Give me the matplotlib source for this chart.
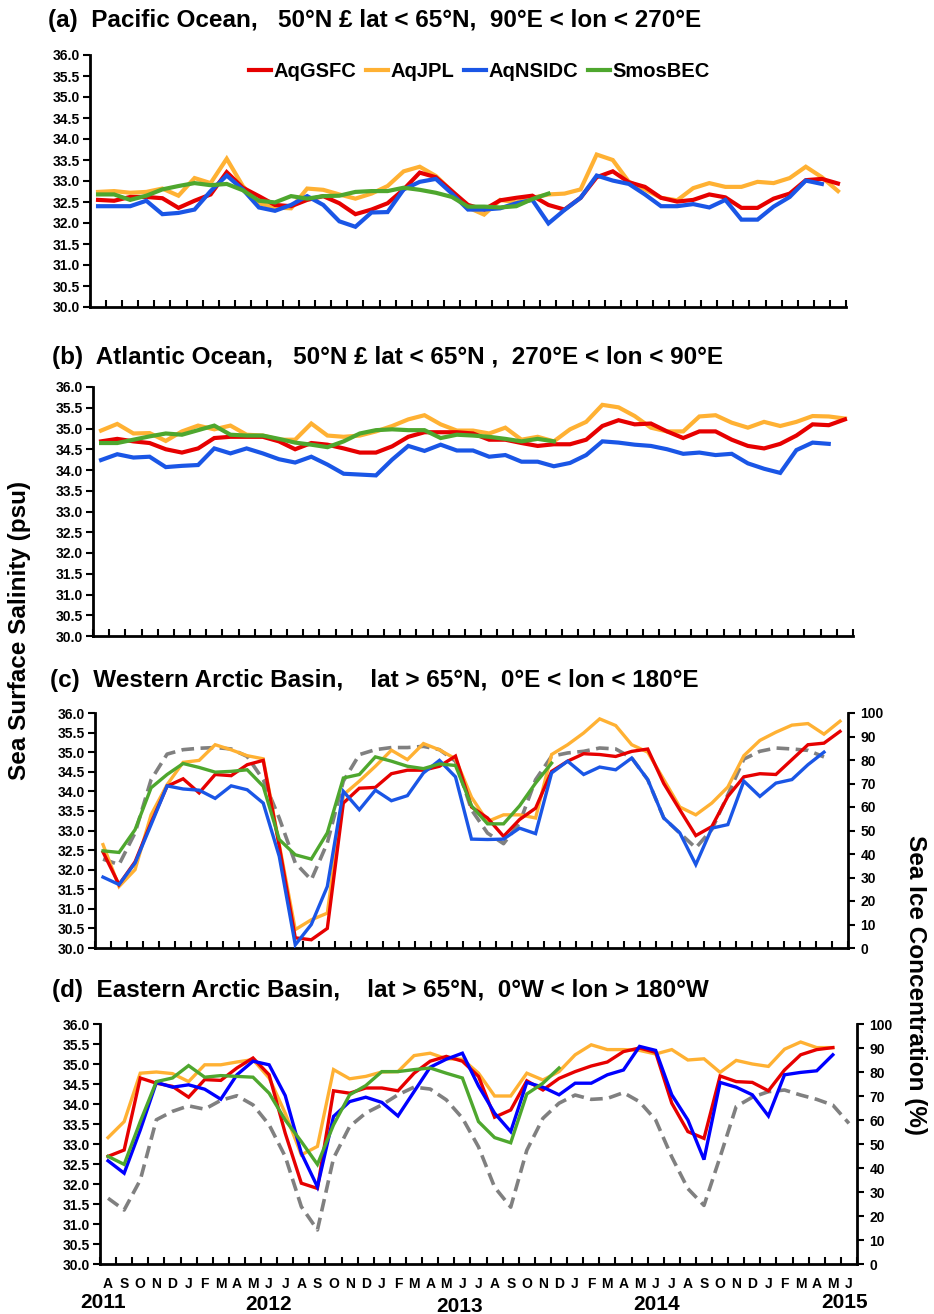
import numpy as np
import matplotlib
matplotlib.use("Agg")
import matplotlib.pyplot as plt
from matplotlib.ticker import MultipleLocator, FixedLocator, FormatStrFormatter

plt.rcParams['font.family'] = ['Liberation Sans', 'DejaVu Sans']
plt.rcParams['font.weight'] = 'bold'

nan = np.nan
months = list("ASOND" + "JFMAMJJASOND" * 3 + "JFMAMJ")
years = ['2011', '2012', '2013', '2014', '2015']
series_names = ['AqGSFC', 'AqJPL', 'AqNSIDC', 'SmosBEC']

# ---------------- (a) Pacific ----------------
a_gsfc = [32.55, 32.53, 32.62, 32.62, 32.59, 32.36, 32.53, 32.68, 33.21, 32.84,
          32.64, 32.43, 32.40, 32.55, 32.64, 32.47, 32.21, 32.32, 32.47, 32.80,
          33.20, 33.09, 32.76, 32.43, 32.32, 32.54, 32.60, 32.65, 32.43, 32.32,
          32.60, 33.09, 33.23, 32.97, 32.86, 32.60, 32.51, 32.55, 32.68, 32.61,
          32.36, 32.36, 32.58, 32.70, 33.02, 33.05, 32.94]
a_jpl = [32.74, 32.76, 32.72, 32.74, 32.82, 32.65, 33.07, 32.95, 33.53, 32.88,
         32.47, 32.37, 32.35, 32.82, 32.79, 32.68, 32.58, 32.70, 32.88, 33.23,
         33.34, 33.12, 32.76, 32.37, 32.20, 32.55, 32.49, 32.60, 32.68, 32.70,
         32.80, 33.63, 33.50, 32.98, 32.80, 32.60, 32.54, 32.83, 32.95, 32.86,
         32.86, 32.98, 32.95, 33.07, 33.34, 33.09, 32.76]
a_nsidc = [32.40, 32.40, 32.40, 32.53, 32.21, 32.24, 32.32, 32.76, 33.13, 32.80,
           32.37, 32.29, 32.43, 32.64, 32.43, 32.04, 31.91, 32.25, 32.26, 32.80,
           32.98, 33.05, 32.70, 32.32, 32.32, 32.35, 32.47, 32.55, 31.99, 32.31,
           32.60, 33.13, 33.01, 32.93, 32.68, 32.40, 32.40, 32.45, 32.37, 32.55,
           32.08, 32.08, 32.39, 32.62, 33.01, 32.93, nan]
a_smos = [32.68, 32.68, 32.55, 32.65, 32.80, 32.88, 32.95, 32.90, 32.93, 32.78,
          32.53, 32.49, 32.64, 32.58, 32.64, 32.65, 32.74, 32.76, 32.76, 32.84,
          32.79, 32.72, 32.62, 32.39, 32.39, 32.37, 32.40, 32.57, 32.70]

# ---------------- (b) Atlantic ----------------
b_gsfc = [34.69, 34.75, 34.69, 34.65, 34.50, 34.42, 34.52, 34.77, 34.80, 34.80,
          34.80, 34.69, 34.50, 34.65, 34.61, 34.52, 34.42, 34.42, 34.57, 34.80,
          34.91, 34.91, 34.91, 34.88, 34.73, 34.73, 34.65, 34.58, 34.62, 34.62,
          34.73, 35.06, 35.20, 35.10, 35.12, 34.93, 34.77, 34.93, 34.93, 34.73,
          34.58, 34.52, 34.63, 34.83, 35.10, 35.08, 35.22]
b_jpl = [34.95, 35.11, 34.88, 34.89, 34.70, 34.93, 35.07, 34.98, 35.07, 34.85,
         34.83, 34.73, 34.73, 35.12, 34.83, 34.80, 34.83, 34.93, 35.06, 35.22,
         35.32, 35.10, 34.95, 34.95, 34.88, 35.02, 34.73, 34.80, 34.69, 34.98,
         35.16, 35.57, 35.51, 35.30, 35.02, 34.93, 34.93, 35.29, 35.32, 35.14,
         35.02, 35.16, 35.06, 35.16, 35.30, 35.29, 35.24]
b_nsidc = [34.24, 34.38, 34.30, 34.32, 34.07, 34.10, 34.12, 34.52, 34.40, 34.52,
           34.40, 34.26, 34.18, 34.32, 34.13, 33.91, 33.89, 33.87, 34.25, 34.58,
           34.46, 34.61, 34.47, 34.47, 34.32, 34.36, 34.20, 34.20, 34.09, 34.17,
           34.36, 34.69, 34.66, 34.61, 34.58, 34.50, 34.39, 34.42, 34.36, 34.39,
           34.16, 34.03, 33.93, 34.48, 34.66, 34.63, nan]
b_smos = [34.65, 34.65, 34.73, 34.81, 34.88, 34.85, 34.96, 35.07, 34.85, 34.83,
          34.83, 34.75, 34.66, 34.61, 34.55, 34.69, 34.88, 34.96, 34.98, 34.96,
          34.96, 34.77, 34.85, 34.83, 34.80, 34.75, 34.69, 34.75, 34.69]

# ---------------- (c) Western Arctic ----------------
c_gsfc = [32.45, 31.62, 32.20, 33.20, 34.13, 34.32, 33.96, 34.43, 34.40, 34.68,
          34.79, 32.60, 30.26, 30.21, 30.50, 33.70, 34.08, 34.10, 34.45, 34.54,
          34.54, 34.64, 34.90, 33.60, 33.32, 32.85, 33.28, 33.57, 34.51, 34.77,
          34.96, 34.94, 34.89, 35.02, 35.08, 34.20, 33.53, 32.87, 33.10, 33.87,
          34.37, 34.45, 34.43, 34.81, 35.19, 35.23, 35.53]
c_jpl = [32.64, 31.57, 32.00, 33.40, 34.17, 34.74, 34.79, 35.19, 35.06, 34.91,
         34.83, 32.65, 30.47, 30.72, 30.89, 33.91, 34.26, 34.64, 35.05, 34.81,
         35.22, 35.06, 34.83, 33.85, 33.23, 33.40, 33.40, 33.32, 34.94, 35.19,
         35.49, 35.85, 35.68, 35.19, 35.00, 34.30, 33.60, 33.40, 33.70, 34.11,
         34.91, 35.30, 35.51, 35.69, 35.73, 35.46, 35.79]
c_nsidc = [31.81, 31.62, 32.17, 33.15, 34.14, 34.06, 34.03, 33.82, 34.14, 34.04,
           33.70, 32.34, 30.08, 30.60, 31.57, 34.00, 33.53, 34.03, 33.76, 33.89,
           34.47, 34.79, 34.37, 32.78, 32.77, 32.78, 33.06, 32.92, 34.47, 34.77,
           34.43, 34.62, 34.55, 34.85, 34.30, 33.32, 32.94, 32.13, 33.06, 33.15,
           34.26, 33.87, 34.21, 34.30, 34.68, 35.00, nan]
c_smos = [32.48, 32.44, 33.02, 34.09, 34.43, 34.71, 34.61, 34.49, 34.51, 34.55,
          34.13, 32.77, 32.38, 32.27, 32.94, 34.34, 34.43, 34.88, 34.77, 34.64,
          34.58, 34.70, 34.66, 33.63, 33.17, 33.17, 33.63, 34.21, 34.72]
c_ice = [37.8, 35.5, 49.0, 71.6, 82.5, 84.4, 85.0, 85.3, 84.7, 81.5,
         71.6, 55.3, 36.2, 29.0, 44.7, 71.0, 82.3, 84.4, 85.3, 85.3,
         85.8, 84.4, 79.5, 58.8, 48.9, 44.4, 53.2, 71.6, 81.6, 83.0,
         83.7, 85.1, 84.7, 80.9, 71.6, 55.3, 48.9, 42.6, 50.4, 65.2,
         80.4, 83.7, 85.1, 84.7, 84.1, 81.3, nan]

# ---------------- (d) Eastern Arctic ----------------
d_gsfc = [32.69, 32.85, 34.65, 34.52, 34.44, 34.17, 34.61, 34.59, 34.90, 35.15,
          34.73, 33.27, 32.02, 31.89, 34.33, 34.27, 34.40, 34.40, 34.33, 34.77,
          35.07, 35.19, 35.07, 34.69, 33.67, 33.85, 34.58, 34.35, 34.64, 34.81,
          34.95, 35.05, 35.31, 35.40, 35.29, 34.02, 33.31, 33.14, 34.70, 34.56,
          34.54, 34.33, 34.85, 35.23, 35.36, 35.41, nan]
d_jpl = [33.16, 33.56, 34.77, 34.80, 34.76, 34.56, 34.98, 34.98, 35.05, 35.11,
         34.65, 33.77, 32.73, 32.94, 34.86, 34.63, 34.69, 34.80, 34.81, 35.21,
         35.27, 35.13, 35.12, 34.77, 34.20, 34.20, 34.77, 34.60, 34.81, 35.23,
         35.48, 35.36, 35.36, 35.34, 35.25, 35.36, 35.10, 35.13, 34.79, 35.09,
         35.00, 34.94, 35.37, 35.55, 35.41, 35.41, nan]
d_nsidc = [32.58, 32.27, 33.35, 34.54, 34.42, 34.48, 34.37, 34.12, 34.73, 35.07,
           34.98, 34.21, 32.77, 31.93, 33.69, 34.06, 34.17, 34.04, 33.70, 34.31,
           34.92, 35.12, 35.27, 34.45, 33.77, 33.31, 34.54, 34.42, 34.23, 34.52,
           34.52, 34.73, 34.85, 35.44, 35.34, 34.23, 33.60, 32.61, 34.54, 34.42,
           34.23, 33.70, 34.73, 34.79, 34.83, 35.23, nan]
d_smos = [32.69, 32.49, 33.56, 34.56, 34.65, 34.96, 34.67, 34.71, 34.69, 34.67,
          34.27, 33.60, 33.06, 32.49, 33.48, 34.23, 34.46, 34.81, 34.81, 34.86,
          34.90, 34.77, 34.65, 33.56, 33.16, 33.03, 34.25, 34.52, 34.90]
d_ice = [27.4, 22.5, 35.0, 60.1, 63.6, 65.9, 64.5, 68.2, 70.1, 66.3,
         58.0, 44.8, 23.9, 14.2, 44.1, 57.3, 62.9, 66.3, 70.5, 73.7,
         72.9, 68.4, 60.8, 48.8, 32.0, 23.7, 47.4, 60.7, 67.0, 70.4,
         68.6, 69.0, 71.4, 67.6, 60.0, 44.6, 31.4, 24.4, 44.6, 65.6,
         69.5, 71.8, 72.5, 70.4, 68.6, 66.2, 58.6]

titles = ["(a)  Pacific Ocean,   50\u00b0N \u00a3 lat < 65\u00b0N,  90\u00b0E < lon < 270\u00b0E",
          "(b)  Atlantic Ocean,   50\u00b0N \u00a3 lat < 65\u00b0N ,  270\u00b0E < lon < 90\u00b0E",
          "(c)  Western Arctic Basin,    lat > 65\u00b0N,  0\u00b0E < lon < 180\u00b0E",
          "(d)  Eastern Arctic Basin,    lat > 65\u00b0N,  0\u00b0W < lon > 180\u00b0W"]

W, H = 934, 1314
fig = plt.figure(figsize=(W / 100, H / 100), dpi=100)

RED = '#E60000'
YEL = '#FFB133'
BLU = '#1A56E6'
BLU_D = '#0000FF'
GRN = '#4EA72E'
GRY = '#808080'

def add_ax(l, r, t, b):
    return fig.add_axes([l / W, 1 - b / H, (r - l) / W, (b - t) / H])

boxes = [(90, 846, 55, 307), (93, 853, 387, 636), (95, 848, 713, 948), (100, 857, 1024, 1264)]
title_pos = [(48, 21), (52, 358), (50, 680), (52, 990)]
panels = [
    (a_gsfc, a_jpl, a_nsidc, a_smos, None, BLU, 3.0),
    (b_gsfc, b_jpl, b_nsidc, b_smos, None, BLU, 3.0),
    (c_gsfc, c_jpl, c_nsidc, c_smos, c_ice, BLU, 2.4),
    (d_gsfc, d_jpl, d_nsidc, d_smos, d_ice, BLU_D, 2.4),
]
n = len(months)
x = np.arange(n) + 0.5

axes = []
for k, (gs, jp, ns, sm, ice, bcol, lw) in enumerate(panels):
    ax = add_ax(*boxes[k])
    axes.append(ax)
    l1, = ax.plot(x[:len(gs)], gs, color=RED, lw=lw, solid_joinstyle='miter', zorder=3)
    l2, = ax.plot(x[:len(jp)], jp, color=YEL, lw=lw, solid_joinstyle='miter', zorder=2)
    l3, = ax.plot(x[:len(ns)], ns, color=bcol, lw=lw, solid_joinstyle='miter', zorder=4)
    l4, = ax.plot(x[:len(sm)], sm, color=GRN, lw=lw, solid_joinstyle='miter', zorder=5)
    ax.set_xlim(0, n)
    ax.set_ylim(30, 36)
    ax.yaxis.set_major_locator(MultipleLocator(0.5))
    ax.yaxis.set_major_formatter(FormatStrFormatter('%.1f'))
    ax.xaxis.set_major_locator(FixedLocator(np.arange(0, n + 1)))
    ax.set_xticklabels([])
    ax.tick_params(axis='x', which='major', direction='in', length=5, width=1.5)
    ax.tick_params(axis='y', direction='out', length=5, width=1.5, labelsize=10, pad=2)
    for s in ['top', 'right']:
        ax.spines[s].set_visible(False)
    for s in ['left', 'bottom']:
        ax.spines[s].set_linewidth(2)
    for lab in ax.get_yticklabels():
        lab.set_fontweight('bold')
    fig.text(title_pos[k][0] / W, 1 - title_pos[k][1] / H, titles[k], fontsize=17.5,
             fontweight='bold', ha='left', va='center')
    if ice is not None:
        ax2 = ax.twinx()
        ax2.plot(x[:len(ice)], ice, color=GRY, lw=2.6, ls=(0, (3.5, 1.8)), zorder=1)
        ax2.set_ylim(0, 100)
        ax2.yaxis.set_major_locator(MultipleLocator(10))
        ax2.tick_params(axis='y', direction='out', length=5, width=1.5, labelsize=10, pad=4)
        ax2.spines['top'].set_visible(False)
        ax2.spines['left'].set_visible(False)
        ax2.spines['bottom'].set_visible(False)
        ax2.spines['right'].set_linewidth(2)
        ax2.set_zorder(ax.get_zorder() - 1)
        ax.patch.set_visible(False)
        for lab in ax2.get_yticklabels():
            lab.set_fontweight('bold')
    if k == 0:
        ax.legend([l1, l2, l3, l4], series_names, loc='center', bbox_to_anchor=(0.515, 0.933),
                  ncol=4, frameon=False, handlelength=1.1, handletextpad=0.15,
                  columnspacing=0.45, prop={'weight': 'bold', 'size': 14.5})

# month labels on the bottom panel
axd = axes[3]
axd.xaxis.set_minor_locator(FixedLocator(x))
axd.set_xticklabels(months, minor=True)
axd.tick_params(axis='x', which='minor', length=0, pad=9, labelsize=10)
for lab in axd.get_xticklabels(minor=True):
    lab.set_fontweight('bold')

year_px = [(103, 1303), (269, 1304), (460, 1307), (657, 1304), (845, 1302)]
for (px, py), yr in zip(year_px, years):
    fig.text(px / W, 1 - py / H, yr, fontsize=15, fontweight='bold', ha='center', va='center')

fig.text(20 / W, 1 - 630 / H, 'Sea Surface Salinity (psu)', rotation=90, fontsize=17.5,
         fontweight='bold', ha='center', va='center')
fig.text(915 / W, 1 - 985 / H, 'Sea Ice Concentration (%)', rotation=270, fontsize=17.5,
         fontweight='bold', ha='center', va='center')

fig.savefig('out.png', dpi=100)
